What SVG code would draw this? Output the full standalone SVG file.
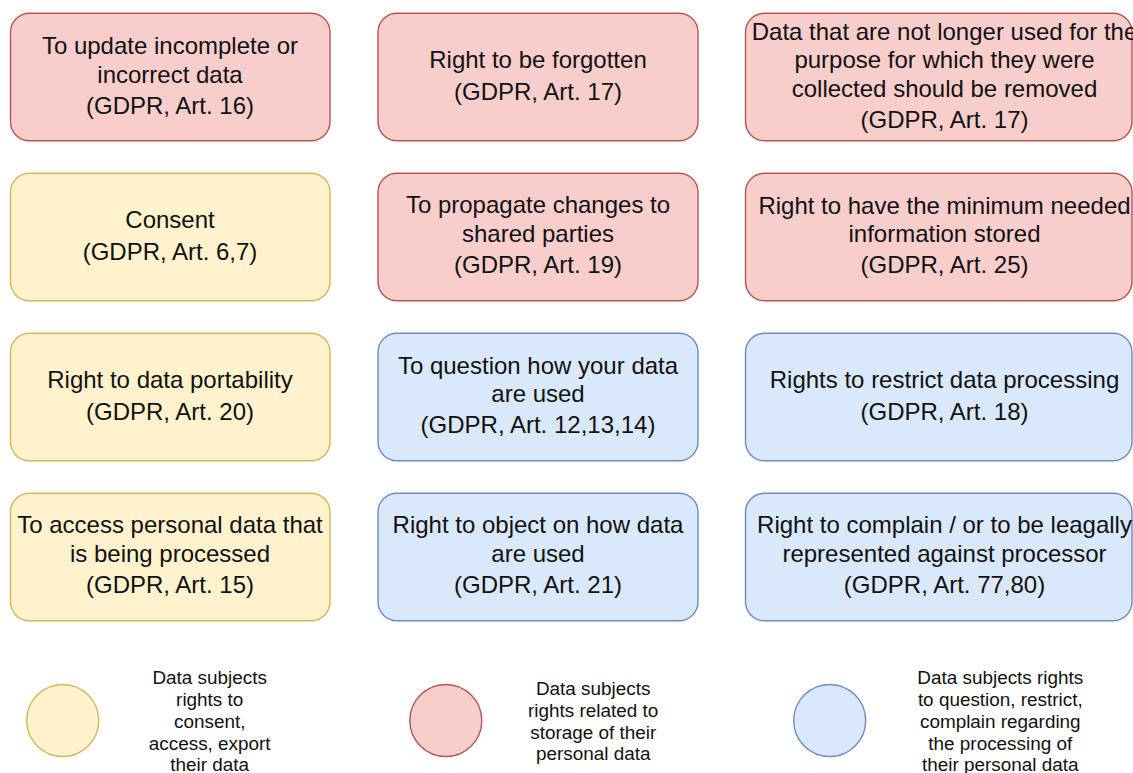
<svg xmlns="http://www.w3.org/2000/svg" width="1133" height="773" viewBox="0 0 1133 773">
  <style>
    .box { stroke-width: 1.4; }
    .red { fill: #f8cecc; stroke: #b85450; }
    .yellow { fill: #fff2cc; stroke: #d6b656; }
    .blue { fill: #dae8fc; stroke: #6c8ebf; }
    .t { font-family: "Liberation Sans", Arial, Helvetica, sans-serif; font-size: 24px; fill: #111; text-anchor: middle; }
    .lg { font-family: "Liberation Sans", Arial, Helvetica, sans-serif; font-size: 18.9px; fill: #111; text-anchor: middle; }
  </style>
  <rect width="1133" height="773" fill="#ffffff"/>

  <!-- row 1 -->
  <g id="update-data">
    <rect class="box red" x="10.5" y="13.3" width="319.5" height="127.5" rx="19"/>
    <text class="t" x="170" y="54.3">To update incomplete or</text>
    <text class="t" x="170" y="82.7">incorrect data</text>
    <text class="t" x="170" y="113.5">(GDPR, Art. 16)</text>
  </g>
  <g id="forgotten">
    <rect class="box red" x="378" y="13.3" width="320" height="127.5" rx="19"/>
    <text class="t" x="538" y="68.3">Right to be forgotten</text>
    <text class="t" x="538" y="100">(GDPR, Art. 17)</text>
  </g>
  <g id="remove-unused">
    <rect class="box red" x="745.5" y="13.3" width="386.5" height="127.5" rx="19"/>
    <text class="t" x="944.5" y="40">Data that are not longer used for the</text>
    <text class="t" x="944.5" y="68.4">purpose for which they were</text>
    <text class="t" x="944.5" y="96.8">collected should be removed</text>
    <text class="t" x="944.5" y="128.4">(GDPR, Art. 17)</text>
  </g>

  <!-- row 2 -->
  <g id="consent">
    <rect class="box yellow" x="10.5" y="173.3" width="319.5" height="127.5" rx="19"/>
    <text class="t" x="170" y="228.3">Consent</text>
    <text class="t" x="170" y="260">(GDPR, Art. 6,7)</text>
  </g>
  <g id="propagate">
    <rect class="box red" x="378" y="173.3" width="320" height="127.5" rx="19"/>
    <text class="t" x="538" y="213.3">To propagate changes to</text>
    <text class="t" x="538" y="241.7">shared parties</text>
    <text class="t" x="538" y="273.3">(GDPR, Art. 19)</text>
  </g>
  <g id="minimum-info">
    <rect class="box red" x="745.5" y="173.3" width="386.5" height="127.5" rx="19"/>
    <text class="t" x="944.5" y="213.5">Right to have the minimum needed</text>
    <text class="t" x="944.5" y="241.9">information stored</text>
    <text class="t" x="944.5" y="273.3">(GDPR, Art. 25)</text>
  </g>

  <!-- row 3 -->
  <g id="portability">
    <rect class="box yellow" x="10.5" y="333.3" width="319.5" height="127.5" rx="19"/>
    <text class="t" x="170" y="388.3">Right to data portability</text>
    <text class="t" x="170" y="420">(GDPR, Art. 20)</text>
  </g>
  <g id="question-use">
    <rect class="box blue" x="378" y="333.3" width="320" height="127.5" rx="19"/>
    <text class="t" x="538" y="373.5">To question how your data</text>
    <text class="t" x="538" y="401.9">are used</text>
    <text class="t" x="538" y="433.3">(GDPR, Art. 12,13,14)</text>
  </g>
  <g id="restrict">
    <rect class="box blue" x="745.5" y="333.3" width="386.5" height="127.5" rx="19"/>
    <text class="t" x="944.5" y="388.3">Rights to restrict data processing</text>
    <text class="t" x="944.5" y="420">(GDPR, Art. 18)</text>
  </g>

  <!-- row 4 -->
  <g id="access">
    <rect class="box yellow" x="10.5" y="493.3" width="319.5" height="127.5" rx="19"/>
    <text class="t" x="170" y="533.3">To access personal data that</text>
    <text class="t" x="170" y="561.7">is being processed</text>
    <text class="t" x="170" y="593.3">(GDPR, Art. 15)</text>
  </g>
  <g id="object">
    <rect class="box blue" x="378" y="493.3" width="320" height="127.5" rx="19"/>
    <text class="t" x="538" y="533.3">Right to object on how data</text>
    <text class="t" x="538" y="561.7">are used</text>
    <text class="t" x="538" y="593.3">(GDPR, Art. 21)</text>
  </g>
  <g id="complain">
    <rect class="box blue" x="745.5" y="493.3" width="386.5" height="127.5" rx="19"/>
    <text class="t" x="944.5" y="533.3">Right to complain / or to be leagally</text>
    <text class="t" x="944.5" y="561.7">represented against processor</text>
    <text class="t" x="944.5" y="593">(GDPR, Art. 77,80)</text>
  </g>

  <!-- no connectors in this figure -->
  <g id="connectors"/>

  <!-- legend -->
  <g id="legend-yellow">
    <circle class="box yellow" cx="62.7" cy="720.5" r="36"/>
    <text class="lg" x="209.7" y="684.3">Data subjects</text>
    <text class="lg" x="209.7" y="706">rights to</text>
    <text class="lg" x="209.7" y="727.8">consent,</text>
    <text class="lg" x="209.7" y="749.6">access, export</text>
    <text class="lg" x="209.7" y="771.4">their data</text>
  </g>
  <g id="legend-red">
    <circle class="box red" cx="445.8" cy="720.5" r="36"/>
    <text class="lg" x="593.2" y="695">Data subjects</text>
    <text class="lg" x="593.2" y="716.8">rights related to</text>
    <text class="lg" x="593.2" y="738.6">storage of their</text>
    <text class="lg" x="593.2" y="760.4">personal data</text>
  </g>
  <g id="legend-blue">
    <circle class="box blue" cx="829.7" cy="720.5" r="36"/>
    <text class="lg" x="1000.3" y="684.3">Data subjects rights</text>
    <text class="lg" x="1000.3" y="706">to question, restrict,</text>
    <text class="lg" x="1000.3" y="727.8">complain regarding</text>
    <text class="lg" x="1000.3" y="749.6">the processing of</text>
    <text class="lg" x="1000.3" y="771.4">their personal data</text>
  </g>
</svg>
